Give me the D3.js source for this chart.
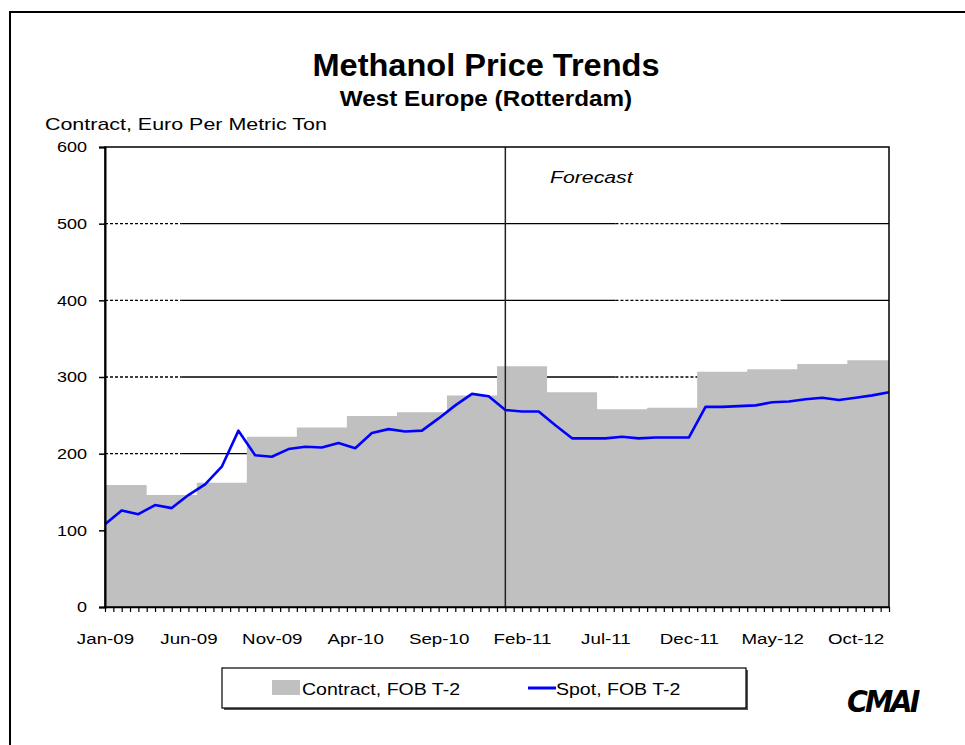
<!DOCTYPE html>
<html>
<head>
<meta charset="utf-8">
<script src="https://cdn.jsdelivr.net/npm/d3@7"></script>
<style>
  body { margin: 0; background: #fff; }
  svg { display: block; font-family: "Liberation Sans", Arial, sans-serif; }
  .st { transform-box: fill-box; }
</style>
</head>
<body>
<svg id="chart" width="965" height="745"></svg>
<script>
// months on the category axis
var MONTHS = ["Jan-09","Feb-09","Mar-09","Apr-09","May-09","Jun-09","Jul-09","Aug-09","Sep-09","Oct-09","Nov-09","Dec-09",
              "Jan-10","Feb-10","Mar-10","Apr-10","May-10","Jun-10","Jul-10","Aug-10","Sep-10","Oct-10","Nov-10","Dec-10",
              "Jan-11","Feb-11","Mar-11","Apr-11","May-11","Jun-11","Jul-11","Aug-11","Sep-11","Oct-11","Nov-11","Dec-11",
              "Jan-12","Feb-12","Mar-12","Apr-12","May-12","Jun-12","Jul-12","Aug-12","Sep-12","Oct-12","Nov-12","Dec-12"];
var LABEL_MONTHS = ["Jan-09","Jun-09","Nov-09","Apr-10","Sep-10","Feb-11","Jul-11","Dec-11","May-12","Oct-12"];
var Y_TICKS = [0, 100, 200, 300, 400, 500, 600];
var GRID_VALUES = [100, 200, 300, 400, 500];
var FORECAST_START = "Jan-11";

// Contract, FOB T-2 (quarterly settlements, one value per month)
var CONTRACT = [159,159,159, 146,146,146, 162,162,162, 222,222,222,
                234,234,234, 249,249,249, 254,254,254, 276,276,276,
                314,314,314, 280,280,280, 258,258,258, 260,260,260,
                307,307,307, 310,310,310, 317,317,317, 322,322,322];
// Spot, FOB T-2
var SPOT = [108,126,121,133,129,146,160,183,230,198,196,206,
            209,208,214,207,227,232,229,230,246,263,278,275,
            257,255,255,237,220,220,220,222,220,221,221,221,
            261,261,262,263,267,268,271,273,270,273,276,280];

var svg = d3.select("#chart");
var margin = { top: 147, right: 76, bottom: 138, left: 105 };
var W = 965, H = 745;

var x = d3.scaleLinear().domain([0, MONTHS.length - 1]).range([margin.left, W - margin.right]);
var y = d3.scaleLinear().domain([0, 600]).range([H - margin.bottom, margin.top]);

function stretch(sel, k, origin) {
    sel.classed("st", true)
        .style("transform-origin", origin)
        .style("transform", "scaleX(" + k + ")");
    return sel;
}

// outer frame of the page
svg.append("path")
    .attr("d", "M10,745 L10,12 L965,12")
    .attr("fill", "none").attr("stroke", "#000").attr("stroke-width", 2);

// titles
stretch(svg.append("text").attr("x", 486).attr("y", 76).attr("text-anchor", "middle")
    .attr("font-size", 31).attr("font-weight", "bold").text("Methanol Price Trends"), 1.05, "center");
stretch(svg.append("text").attr("x", 486).attr("y", 106).attr("text-anchor", "middle")
    .attr("font-size", 21.5).attr("font-weight", "bold").text("West Europe (Rotterdam)"), 1.13, "center");
stretch(svg.append("text").attr("x", 45).attr("y", 130)
    .attr("font-size", 16).text("Contract, Euro Per Metric Ton"), 1.34, "left");

// gridlines: dashed where the original shows dotted segments
var dashedSpans = [[0, 4.6], [30.6, 40.5]];
var grid = svg.append("g");
GRID_VALUES.forEach(function (v) {
    var cuts = [0, 4.6, 30.6, 40.5, MONTHS.length - 1];
    for (var i = 0; i < cuts.length - 1; i++) {
        var a = cuts[i], b = cuts[i + 1];
        var dashed = dashedSpans.some(function (s) { return s[0] === a; });
        grid.append("line")
            .attr("x1", x(a)).attr("x2", x(b))
            .attr("y1", y(v)).attr("y2", y(v))
            .attr("stroke", "#000").attr("stroke-width", 1.3)
            .attr("stroke-dasharray", dashed ? "3,2" : null);
    }
});

// contract area (step)
var area = d3.area()
    .curve(d3.curveStep)
    .x(function (d, i) { return x(i); })
    .y0(y(0))
    .y1(function (d) { return y(d); });
svg.append("path").datum(CONTRACT)
    .attr("fill", "#c0c0c0")
    .attr("d", area);

// spot line
var line = d3.line()
    .x(function (d, i) { return x(i); })
    .y(function (d) { return y(d); });
svg.append("path").datum(SPOT)
    .attr("fill", "none")
    .attr("stroke", "#0000ff")
    .attr("stroke-width", 2.6)
    .attr("stroke-linejoin", "round")
    .attr("d", line);

// forecast divider
var fx = x(MONTHS.indexOf(FORECAST_START));
svg.append("line")
    .attr("x1", fx).attr("x2", fx).attr("y1", y(600)).attr("y2", y(0))
    .attr("stroke", "#222").attr("stroke-width", 1.5);
stretch(svg.append("text").attr("x", 550).attr("y", 183)
    .attr("font-size", 17).attr("font-style", "italic").text("Forecast"), 1.25, "left");

// plot frame
svg.append("rect")
    .attr("x", x(0)).attr("y", y(600))
    .attr("width", x(MONTHS.length - 1) - x(0)).attr("height", y(0) - y(600))
    .attr("fill", "none").attr("stroke", "#000").attr("stroke-width", 1.5);

// y axis
var yAxis = svg.append("g")
    .attr("transform", "translate(" + x(0) + ",0)")
    .call(d3.axisLeft(y).tickValues(Y_TICKS).tickSize(6).tickPadding(12).tickFormat(d3.format("d")));
yAxis.select(".domain").attr("stroke-width", 2);
yAxis.selectAll(".tick line").attr("stroke-width", 1.5);
stretch(yAxis.selectAll("text").attr("font-size", 15).attr("fill", "#000")
    .attr("font-family", "Liberation Sans, Arial, sans-serif"), 1.2, "right");

// x axis: a tick at every half month, labels every five months
var halfTicks = d3.range(0, MONTHS.length - 1 + 0.01, 0.5);
var xAxis = svg.append("g")
    .attr("transform", "translate(0," + y(0) + ")")
    .call(d3.axisBottom(x).tickValues(halfTicks).tickSize(5).tickFormat("").tickSizeOuter(0));
xAxis.select(".domain").attr("stroke-width", 1.5);
xAxis.selectAll(".tick line").attr("stroke-width", 1.2);

var xLabels = svg.append("g")
    .attr("transform", "translate(0," + y(0) + ")")
    .call(d3.axisBottom(x)
        .tickValues(LABEL_MONTHS.map(function (m) { return MONTHS.indexOf(m); }))
        .tickSize(0).tickPadding(26)
        .tickFormat(function (i) { return MONTHS[i]; }));
xLabels.select(".domain").remove();
stretch(xLabels.selectAll("text").attr("font-size", 15).attr("fill", "#000")
    .attr("font-family", "Liberation Sans, Arial, sans-serif"), 1.25, "center");

// legend
var lg = svg.append("g");
lg.append("rect").attr("x", 224).attr("y", 670).attr("width", 524).attr("height", 40).attr("fill", "#555");
lg.append("rect").attr("x", 222).attr("y", 668).attr("width", 524).attr("height", 40)
    .attr("fill", "#fff").attr("stroke", "#000").attr("stroke-width", 1.2);
lg.append("rect").attr("x", 272).attr("y", 680).attr("width", 28).attr("height", 15).attr("fill", "#c0c0c0");
stretch(lg.append("text").attr("x", 302).attr("y", 695).attr("font-size", 17).text("Contract, FOB T-2"), 1.15, "left");
lg.append("line").attr("x1", 528).attr("x2", 556).attr("y1", 688).attr("y2", 688)
    .attr("stroke", "#0000ff").attr("stroke-width", 3);
stretch(lg.append("text").attr("x", 556).attr("y", 695).attr("font-size", 17).text("Spot, FOB T-2"), 1.15, "left");

// logo
stretch(svg.append("text").attr("x", 847).attr("y", 712)
    .attr("font-size", 30).attr("font-weight", "bold").attr("font-style", "italic")
    .attr("letter-spacing", -3).attr("font-family", "DejaVu Sans, sans-serif")
    .text("CMAI"), 0.95, "left");
</script>
</body>
</html>
